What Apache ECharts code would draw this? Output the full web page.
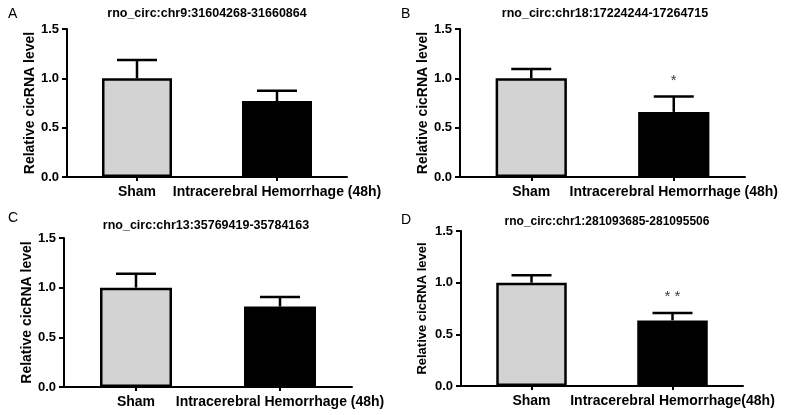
<!DOCTYPE html>
<html>
<head>
<meta charset="utf-8">
<script src="https://cdn.jsdelivr.net/npm/echarts@6/dist/echarts.min.js"></script>
<style>
html,body{margin:0;padding:0;background:#fff;}
#chart{width:786px;height:415px;}
</style>
</head>
<body>
<div id="chart"></div>
<script>
// ---- data ----
const categoriesABC = ['Sham', 'Intracerebral Hemorrhage (48h)'];
const categoriesD = ['Sham', 'Intracerebral Hemorrhage(48h)'];
const panelLetters = ['A', 'B', 'C', 'D'];
const panelTitles = [
  'rno_circ:chr9:31604268-31660864',
  'rno_circ:chr18:17224244-17264715',
  'rno_circ:chr13:35769419-35784163',
  'rno_circ:chr1:281093685-281095506'
];
const meanA = [1.0, 0.77];
const semA = [0.185, 0.105];
const meanB = [1.0, 0.66];
const semB = [0.094, 0.155];
const meanC = [1.0, 0.81];
const semC = [0.14, 0.096];
const meanD = [1.0, 0.635];
const semD = [0.072, 0.072];
const starsB = ['', '*'];
const starYB = [null, 0.97];
const starsD = ['', '* *'];
const starYD = [null, 0.86];
const yTicks = [0, 0.5, 1.0, 1.5];
const yAxisName = 'Relative cicRNA level';

// ---- layout ----
const grids = [
  {left: 67, top: 29, width: 280, height: 148},
  {left: 460, top: 29, width: 285, height: 148},
  {left: 64, top: 238, width: 288, height: 149},
  {left: 461, top: 231, width: 282, height: 155}
];
const titlePos = [[207, 14], [605, 14], [206, 226], [607, 222]];
const letterPos = [[8, 14], [401, 14], [8, 218], [401, 220]];
const nameGaps = [30, 30, 29, 32];
const nameSizes = [14, 14, 14, 13];
const panels = [
  {cats: categoriesABC, mean: meanA, sem: semA, stars: null, starY: null},
  {cats: categoriesABC, mean: meanB, sem: semB, stars: starsB, starY: starYB},
  {cats: categoriesABC, mean: meanC, sem: semC, stars: null, starY: null},
  {cats: categoriesD, mean: meanD, sem: semD, stars: starsD, starY: starYD}
];

const FONT = '"Liberation Sans", Arial, sans-serif';
const chart = echarts.init(document.getElementById('chart'), null, {renderer: 'canvas'});

const option = {
  backgroundColor: '#fff',
  animation: false,
  grid: [], xAxis: [], yAxis: [], series: [], graphic: []
};

panels.forEach((p, i) => {
  option.grid.push(Object.assign({containLabel: false, outerBoundsMode: 'none'}, grids[i]));
  option.xAxis.push({
    type: 'category', gridIndex: i, data: p.cats,
    axisLine: {lineStyle: {color: '#000', width: 2}},
    axisTick: {show: true, alignWithLabel: true, length: 4, lineStyle: {color: '#000', width: 2}},
    axisLabel: {color: '#000', fontFamily: FONT, fontWeight: 'bold', fontSize: 14, margin: 8, interval: 0},
    splitLine: {show: false}
  });
  option.yAxis.push({
    type: 'value', gridIndex: i, min: 0, max: 1.5, interval: 0.5,
    name: yAxisName, nameLocation: 'middle', nameGap: nameGaps[i], nameRotate: 90,
    nameTextStyle: {color: '#000', fontFamily: FONT, fontWeight: 'bold', fontSize: nameSizes[i]},
    axisLine: {show: true, lineStyle: {color: '#000', width: 2}},
    axisTick: {show: true, length: 5, lineStyle: {color: '#000', width: 2}},
    axisLabel: {color: '#000', fontFamily: FONT, fontWeight: 'bold', fontSize: 13, margin: 8,
      formatter: v => v.toFixed(1)},
    splitLine: {show: false}
  });
  option.series.push({
    type: 'bar', xAxisIndex: i, yAxisIndex: i, barWidth: '50%',
    data: p.mean.map((v, k) => ({
      value: v,
      itemStyle: {color: k === 0 ? '#d3d3d3' : '#000', borderColor: '#000', borderWidth: 2.5}
    })),
    z: 2
  });
  option.series.push({
    type: 'custom', xAxisIndex: i, yAxisIndex: i, z: 3,
    data: p.mean.map((v, k) => [k, v, v + p.sem[k]]),
    renderItem: (params, api) => {
      const lo = api.coord([api.value(0), api.value(1)]);
      const hi = api.coord([api.value(0), api.value(2)]);
      const hw = 20;
      const st = {stroke: '#000', lineWidth: 2.5};
      return {type: 'group', children: [
        {type: 'line', shape: {x1: lo[0], y1: lo[1], x2: hi[0], y2: hi[1]}, style: st},
        {type: 'line', shape: {x1: hi[0] - hw, y1: hi[1], x2: hi[0] + hw, y2: hi[1]}, style: st}
      ]};
    }
  });
  if (p.stars) {
    option.series.push({
      type: 'scatter', xAxisIndex: i, yAxisIndex: i, symbolSize: 0, z: 4,
      data: p.starY.map((y, k) => y === null ? null : {value: [k, y], name: p.stars[k]}).filter(d => d),
      label: {show: true, position: 'inside', formatter: d => d.name, color: '#000',
        fontFamily: FONT, fontSize: 15}
    });
  }
  option.graphic.push({
    type: 'text', x: titlePos[i][0], y: titlePos[i][1],
    style: {text: panelTitles[i], fill: '#000', align: 'center', verticalAlign: 'middle',
      font: 'bold ' + (i === 3 ? 12 : 12.5) + 'px ' + FONT}
  });
  option.graphic.push({
    type: 'text', x: letterPos[i][0], y: letterPos[i][1],
    style: {text: panelLetters[i], fill: '#000', align: 'left', verticalAlign: 'middle',
      font: '14px ' + FONT}
  });
});

chart.setOption(option);
</script>
</body>
</html>
